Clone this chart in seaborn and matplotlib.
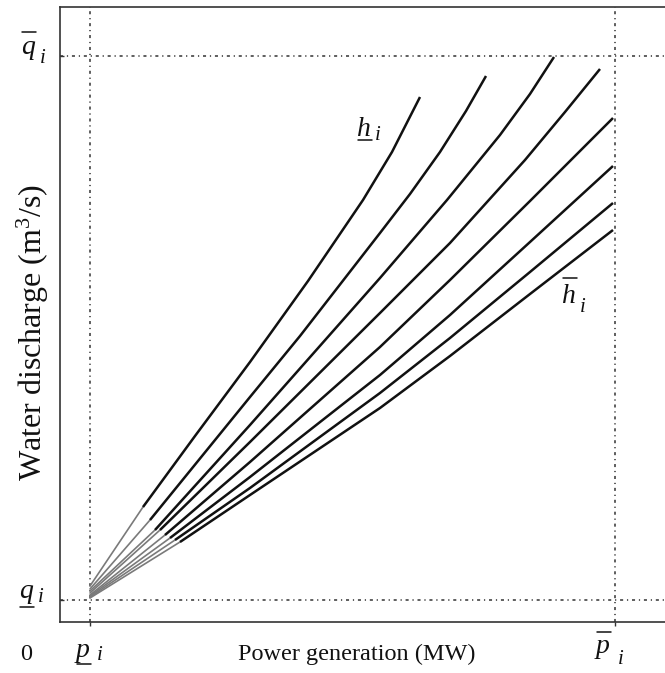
import numpy as np
import pandas as pd
import matplotlib
matplotlib.use("Agg")
import matplotlib.pyplot as plt
from matplotlib.lines import Line2D
import seaborn as sns

# operating limits (power in MW-like units, discharge in m3/s-like units)
P_MIN, P_MAX = 6.0, 111.0
Q_MIN, Q_MAX = 4.4, 113.2

# head curves, from lowest head (top curve) to highest head (bottom curve)
p_curve1 = [6.0, 16.6, 27.0, 38.0, 49.6, 60.6, 66.4, 72.0]
q_curve1 = [7.2, 23.0, 37.2, 52.0, 68.2, 84.4, 94.0, 105.0]
p_curve2 = [6.0, 18.0, 38.0, 48.0, 64.0, 70.0, 76.0, 81.2, 85.2]
q_curve2 = [6.6, 20.4, 45.0, 57.2, 77.8, 85.6, 94.0, 102.2, 109.2]
p_curve3 = [6.0, 19.0, 38.0, 64.0, 77.4, 88.0, 94.0, 98.8]
q_curve3 = [6.2, 18.4, 39.4, 68.8, 84.4, 97.4, 105.6, 113.0]
p_curve4 = [6.0, 20.0, 38.0, 64.0, 78.0, 93.0, 101.0, 108.0]
q_curve4 = [5.8, 18.4, 36.0, 61.8, 75.8, 92.4, 102.0, 110.6]
p_curve5 = [6.0, 21.0, 38.0, 64.0, 78.0, 94.0, 110.6]
q_curve5 = [5.4, 17.4, 32.0, 55.0, 68.4, 84.2, 100.8]
p_curve6 = [6.0, 22.0, 38.0, 64.0, 78.0, 94.0, 110.6]
q_curve6 = [5.2, 16.8, 29.0, 49.4, 61.4, 76.0, 91.2]
p_curve7 = [6.0, 23.0, 38.0, 64.0, 78.0, 94.0, 110.6]
q_curve7 = [5.0, 16.4, 26.8, 45.8, 56.8, 70.0, 83.8]
p_curve8 = [6.0, 24.0, 38.0, 64.0, 78.0, 94.0, 110.6]
q_curve8 = [4.8, 16.0, 25.4, 42.8, 53.2, 65.6, 78.4]

curves_p = [p_curve1, p_curve2, p_curve3, p_curve4, p_curve5, p_curve6, p_curve7, p_curve8]
curves_q = [q_curve1, q_curve2, q_curve3, q_curve4, q_curve5, q_curve6, q_curve7, q_curve8]

W, H = 665, 673

sns.set_style("ticks")
plt.rcParams['font.family'] = ['Liberation Serif', 'DejaVu Serif']
plt.rcParams['mathtext.fontset'] = 'custom'
plt.rcParams['mathtext.rm'] = 'Liberation Serif'
plt.rcParams['mathtext.it'] = 'Liberation Serif:italic'


def fx(px):
    return px / W


def fy(py):
    return 1 - py / H


def build_frames():
    # first segment of each curve is the grey start-up part, the rest is solid black
    start_rows, main_rows = [], []
    for k, (ps, qs) in enumerate(zip(curves_p, curves_q)):
        for j, (p, q) in enumerate(zip(ps, qs)):
            row = {'curve': k, 'order': j, 'power': p, 'discharge': q}
            if j <= 1:
                start_rows.append(row)
            if j >= 1:
                main_rows.append(row)
    return pd.DataFrame(start_rows), pd.DataFrame(main_rows)


def sym_label(fig, base, x, y_base, sub_x, sub_y, bar_y, bar_w=14, size=20, subsize=15):
    fig.text(fx(x), fy(y_base), base, fontsize=size, style='italic',
             ha='left', va='baseline', color='#111111')
    fig.text(fx(sub_x), fy(sub_y), 'i', fontsize=subsize, style='italic',
             ha='left', va='baseline', color='#111111')
    fig.add_artist(Line2D([fx(x + 1), fx(x + 1 + bar_w)], [fy(bar_y), fy(bar_y)],
                          transform=fig.transFigure, color='#111111', lw=1.1))


df_start, df_main = build_frames()

fig = plt.figure(figsize=(W / 100, H / 100), dpi=100)
ax = fig.add_axes([fx(60), fy(622), fx(665) - fx(60), fy(7) - fy(622)])

# limit lines
ref = dict(color='#333333', lw=1.1, linestyle=(0, (2, 2.5, 0.8, 2.5)), zorder=1)
ax.axvline(P_MIN, **ref)
ax.axvline(P_MAX, **ref)
ax.axhline(Q_MIN, **ref)
ax.axhline(Q_MAX, **ref)

sns.lineplot(data=df_start, x='power', y='discharge', units='curve', estimator=None,
             sort=False, color='#7a7a7a', lw=1.2, ax=ax, legend=False)
sns.lineplot(data=df_main, x='power', y='discharge', units='curve', estimator=None,
             sort=False, color='#111111', lw=1.8, ax=ax, legend=False,
             solid_joinstyle='round', solid_capstyle='butt')

ax.set_xlim(0, 121)
ax.set_ylim(0, 123)
ax.set_xlabel('')
ax.set_ylabel('')
ax.set_xticks([P_MIN, P_MAX])
ax.set_yticks([Q_MIN, Q_MAX])
ax.set_xticklabels([])
ax.set_yticklabels([])
ax.tick_params(axis='x', direction='out', length=3, width=1, color='#333333')
ax.tick_params(axis='y', direction='in', length=3, width=1, color='#333333')
for side in ['left', 'bottom', 'top']:
    ax.spines[side].set_color('#333333')
    ax.spines[side].set_linewidth(1.2)
ax.spines['right'].set_visible(False)

# axis texts
fig.text(fx(357), fy(660), 'Power generation (MW)', fontsize=17.5,
         ha='center', va='baseline', color='#111111')
fig.text(fx(33), fy(332), 'Water discharge (m$^3$/s)', fontsize=23, rotation=90,
         ha='center', va='center', color='#111111')
fig.text(fx(26), fy(660), '0', fontsize=17.5, ha='center', va='baseline', color='#111111')

# limit symbols
sym_label(fig, 'q', 21, 54, 40, 63, bar_y=32)
sym_label(fig, 'q', 19, 598, 38, 602, bar_y=607)
sym_label(fig, 'p', 76, 657, 97, 660, bar_y=664)
sym_label(fig, 'p', 596, 653, 618, 664, bar_y=632)
sym_label(fig, 'h', 357, 136, 375, 140, bar_y=140)
sym_label(fig, 'h', 562, 303, 580, 312, bar_y=278)

fig.savefig('out.png', dpi=100)
